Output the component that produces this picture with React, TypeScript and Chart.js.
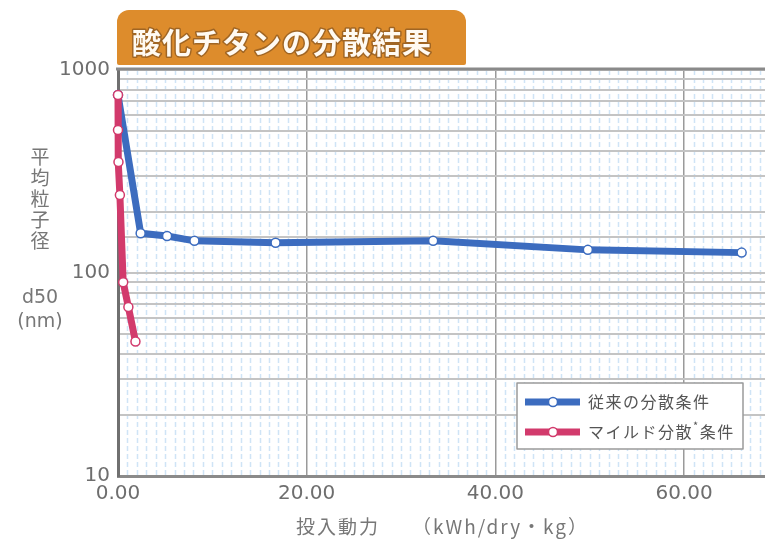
import React, { useEffect, useRef } from "react";
import { Chart, registerables } from "chart.js";

Chart.register(...registerables);

const titleText = "酸化チタンの分散結果";
const conventionalLabel = "従来の分散条件";
const mildLabelParts = ["マイルド分散", "*", "条件"];
const yTitleVertical = ["平", "均", "粒", "子", "径"];
const yTitleUnit = ["d50", "(nm)"];
const xTitleParts = ["投入動力", "（kWh/dry・kg）"];

const conventionalX = [0, 2.4, 5.2, 8.1, 16.7, 33.4, 49.8, 66.1];
const conventionalY = [753, 157, 152, 144, 141, 144, 130, 126];
const mildX = [0, 0, 0.05, 0.2, 0.55, 1.1, 1.85];
const mildY = [753, 506, 352, 242, 90, 68, 46];

const xTickValues = [0, 20, 40, 60];
const yTickValues = [10, 100, 1000];

const BLUE = "#3c6cbf";
const RED = "#d23a6c";
const ORANGE = "#dd8c2c";

const decor = {
  id: "decor",
  beforeDraw(chart: any) {
    const { ctx, chartArea: a, scales } = chart;
    const xs = scales.x;
    ctx.save();
    ctx.fillStyle = "#ffffff";
    ctx.fillRect(0, 0, chart.width, chart.height);
    ctx.strokeStyle = "rgba(175,210,240,0.6)";
    ctx.lineWidth = 1.5;
    ctx.setLineDash([5, 3]);
    for (let v = 1; v < xs.max; v++) {
      if (v % 20 === 0) continue;
      const px = Math.round(xs.getPixelForValue(v)) + 0.5;
      ctx.beginPath();
      ctx.moveTo(px, a.top);
      ctx.lineTo(px, a.bottom);
      ctx.stroke();
    }
    ctx.restore();
  },
  afterDraw(chart: any) {
    const { ctx, chartArea: a } = chart;
    ctx.save();
    // top border
    ctx.strokeStyle = "#8a8a8a";
    ctx.lineWidth = 3;
    ctx.beginPath();
    ctx.moveTo(a.left - 2, a.top - 1);
    ctx.lineTo(a.right, a.top - 1);
    ctx.stroke();

    // title box
    const bx = a.left - 1;
    const by = 10;
    const bw = 349;
    const bh = 55;
    ctx.fillStyle = ORANGE;
    ctx.beginPath();
    ctx.roundRect(bx, by, bw, bh, [12, 12, 2, 2]);
    ctx.fill();
    ctx.font = "bold 29px 'Noto Sans CJK JP'";
    ctx.textBaseline = "middle";
    ctx.textAlign = "left";
    ctx.lineJoin = "round";
    ctx.strokeStyle = "rgba(110,70,30,0.55)";
    ctx.lineWidth = 3;
    (ctx as any).letterSpacing = "1px";
    ctx.strokeText(titleText, bx + 15, by + 33);
    ctx.fillStyle = "#fffaf2";
    ctx.fillText(titleText, bx + 15, by + 33);
    (ctx as any).letterSpacing = "0px";

    // legend
    const lx = a.left + 399;
    const ly = a.bottom - 93;
    const lw = 226;
    const lh = 66;
    ctx.fillStyle = "#ffffff";
    ctx.fillRect(lx, ly, lw, lh);
    ctx.strokeStyle = "#9a9a9a";
    ctx.lineWidth = 1.5;
    ctx.strokeRect(lx, ly, lw, lh);
    const rows = [
      { color: BLUE, y: ly + 19 },
      { color: RED, y: ly + 49 },
    ];
    rows.forEach((r) => {
      ctx.strokeStyle = r.color;
      ctx.lineWidth = 7;
      ctx.beginPath();
      ctx.moveTo(lx + 8, r.y);
      ctx.lineTo(lx + 63, r.y);
      ctx.stroke();
      ctx.fillStyle = "#ffffff";
      ctx.strokeStyle = r.color;
      ctx.lineWidth = 1.5;
      ctx.beginPath();
      ctx.arc(lx + 36, r.y, 4.5, 0, Math.PI * 2);
      ctx.fill();
      ctx.stroke();
    });
    ctx.fillStyle = "#555555";
    ctx.font = "16px 'Noto Sans CJK JP'";
    ctx.textBaseline = "middle";
    (ctx as any).letterSpacing = "1.5px";
    ctx.fillText(conventionalLabel, lx + 71, rows[0].y);
    let tx = lx + 71;
    ctx.fillText(mildLabelParts[0], tx, rows[1].y);
    tx += ctx.measureText(mildLabelParts[0]).width;
    ctx.font = "11px 'Noto Sans CJK JP'";
    ctx.fillText(mildLabelParts[1], tx, rows[1].y - 6);
    tx += ctx.measureText(mildLabelParts[1]).width;
    ctx.font = "16px 'Noto Sans CJK JP'";
    ctx.fillText(mildLabelParts[2], tx, rows[1].y);
    (ctx as any).letterSpacing = "0px";

    // y title
    ctx.fillStyle = "#777777";
    ctx.font = "19px 'Noto Sans CJK JP'";
    ctx.textAlign = "center";
    yTitleVertical.forEach((ch, i) => {
      ctx.fillText(ch, 40, 157 + i * 21);
    });
    ctx.font = "19px 'DejaVu Sans'";
    ctx.fillText(yTitleUnit[0], 40, 298);
    ctx.fillText(yTitleUnit[1], 40, 322);

    // x title
    ctx.font = "19px 'Noto Sans CJK JP'";
    ctx.textAlign = "left";
    (ctx as any).letterSpacing = "2px";
    ctx.fillText(xTitleParts[0], 296, 527);
    ctx.fillText(xTitleParts[1], 412, 527);
    (ctx as any).letterSpacing = "0px";
    ctx.restore();
  },
};

export default function App() {
  const ref = useRef<HTMLCanvasElement | null>(null);
  useEffect(() => {
    if (!ref.current) return;
    const chart = new Chart(ref.current, {
      type: "line",
      data: {
        datasets: [
          {
            label: mildLabelParts.join(""),
            data: mildX.map((x, i) => ({ x, y: mildY[i] })),
            borderColor: RED,
            backgroundColor: RED,
            borderWidth: 7,
            pointRadius: 4.5,
            pointBackgroundColor: "#ffffff",
            pointBorderColor: RED,
            pointBorderWidth: 1.5,
            tension: 0,
            clip: false as any,
          },
          {
            label: conventionalLabel,
            data: conventionalX.map((x, i) => ({ x, y: conventionalY[i] })),
            borderColor: BLUE,
            backgroundColor: BLUE,
            borderWidth: 7,
            pointRadius: 4.5,
            pointBackgroundColor: "#ffffff",
            pointBorderColor: BLUE,
            pointBorderWidth: 1.5,
            tension: 0,
            clip: false as any,
          },
        ],
      },
      options: {
        animation: false,
        responsive: true,
        maintainAspectRatio: false,
        layout: { padding: { left: 0, right: 0, top: 70, bottom: 0 } },
        plugins: {
          legend: { display: false },
          tooltip: { enabled: false },
          title: { display: false },
        },
        scales: {
          x: {
            type: "linear",
            min: 0,
            max: 69,
            afterFit: (s: any) => {
              s.height = 71;
            },
            ticks: {
              stepSize: 20,
              includeBounds: false,
              autoSkip: false,
              maxRotation: 0,
              padding: 6,
              color: "#6e6e6e",
              font: { family: "'DejaVu Sans'", size: 20 },
              callback: (v: any) =>
                xTickValues.includes(Number(v)) ? Number(v).toFixed(2) : "",
            },
            grid: { color: "#9a9a9a", lineWidth: 1.5, drawTicks: false },
            border: { display: true, color: "#8a8a8a", width: 3 },
          },
          y: {
            type: "logarithmic",
            min: 10,
            max: 1000,
            afterFit: (s: any) => {
              s.width = 118;
            },
            ticks: {
              autoSkip: false,
              padding: 8,
              color: "#6e6e6e",
              font: { family: "'DejaVu Sans'", size: 20 },
              callback: (v: any) =>
                yTickValues.includes(Number(v)) ? String(v) : "",
            },
            grid: { color: "#c4c4c4", lineWidth: 2, drawTicks: false },
            border: { display: true, color: "#707070", width: 3 },
          },
        },
      },
      plugins: [decor],
    });
    return () => chart.destroy();
  }, []);
  return (
    <div style={{ position: "fixed", left: 0, top: 0, width: 775, height: 547, background: "#fff", overflow: "hidden" }}>
      <canvas ref={ref} />
    </div>
  );
}
